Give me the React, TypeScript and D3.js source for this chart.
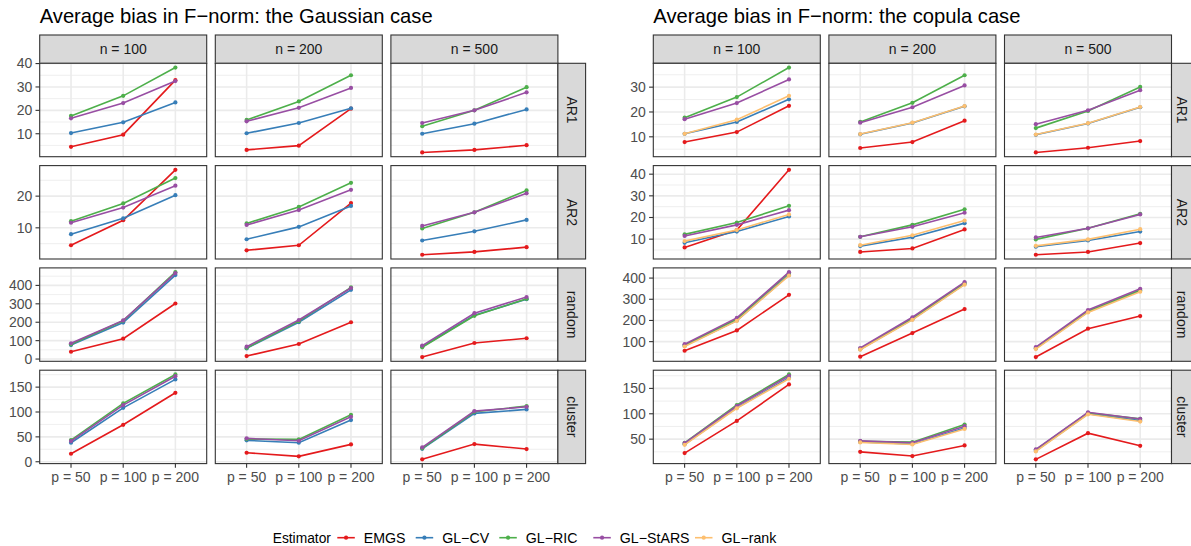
import React from 'react'
import * as d3 from 'd3'

// factor levels
const estimators = ['EMGS', 'GL\u2212CV', 'GL\u2212RIC', 'GL\u2212StARS', 'GL\u2212rank']
const estColors = ['#E41A1C', '#377EB8', '#4DAF4A', '#984EA3', '#FDBF6F']
const nLevels = ['n = 100', 'n = 200', 'n = 500']
const pLevels = ['p = 50', 'p = 100', 'p = 200']
const structures = ['AR1', 'AR2', 'random', 'cluster']

// each row: one estimator, values n=100 (p50,p100,p200), n=200 (...), n=500 (...)
const gaussAR1 = [
  [4.4, 9.6, 32.9, 3.1, 4.9, 20.7, 2.0, 3.1, 5.1],
  [10.3, 14.9, 23.4, 10.2, 14.6, 20.9, 10.0, 14.3, 20.4],
  [17.6, 26.2, 38.3, 15.9, 23.8, 35.0, 13.2, 20.0, 29.9],
  [16.6, 23.1, 32.5, 15.3, 21.1, 29.6, 14.6, 20.0, 27.7],
]
const gaussAR2 = [
  [4.5, 12.4, 28.3, 2.9, 4.5, 17.8, 1.5, 2.4, 3.9],
  [8.0, 13.0, 20.3, 6.4, 10.3, 16.9, 6.0, 8.9, 12.5],
  [12.1, 17.7, 25.7, 11.4, 16.6, 24.2, 9.8, 14.9, 21.8],
  [11.6, 16.4, 23.3, 10.9, 15.6, 22.0, 10.6, 14.9, 20.9],
]
const gaussRandom = [
  [39.8, 110.8, 301.7, 16.4, 81.8, 200, 10.9, 87.3, 112.9],
  [76, 198, 456, 58, 200, 376, 67, 238, 325],
  [80, 208, 472, 60, 206, 389, 64, 235, 327],
  [86, 210, 467, 67, 212, 386, 73, 249, 337],
]
const gaussCluster = [
  [16.1, 74.3, 138.6, 18.1, 10.8, 34.9, 4.8, 35.5, 25.5],
  [38.2, 108.4, 165.5, 43, 38.2, 83.7, 26, 97.2, 105.2],
  [43.6, 117.3, 175.5, 45.5, 45, 94.4, 27, 100.4, 111.8],
  [41.6, 113.9, 172, 47, 42.2, 90.4, 29, 101.8, 110.4],
]

const copAR1 = [
  [7.9, 11.9, 22.5, 5.5, 7.9, 16.5, 3.7, 5.6, 8.3],
  [11.2, 16.0, 25.1, 11.0, 15.6, 22.3, 10.8, 15.4, 21.9],
  [17.7, 26.0, 37.9, 16.0, 23.7, 34.8, 13.5, 20.4, 30.1],
  [17.1, 23.6, 33.1, 15.7, 21.9, 30.7, 15.1, 20.7, 28.8],
  [11.2, 16.9, 26.5, 11.1, 15.7, 22.4, 10.9, 15.5, 22.0],
]
const copAR2 = [
  [6.2, 14.2, 42.0, 4.1, 5.7, 14.5, 2.8, 4.1, 8.2],
  [8.3, 13.5, 20.5, 6.8, 10.9, 17.4, 6.5, 9.4, 13.5],
  [12.2, 17.7, 25.4, 11.1, 16.6, 23.8, 9.9, 15.0, 21.7],
  [11.5, 16.6, 23.4, 11.1, 15.7, 22.2, 10.8, 15.0, 21.4],
  [9.1, 14.2, 21.4, 7.2, 11.8, 18.6, 6.9, 9.9, 14.6],
]
const copRandom = [
  [57, 153, 321, 28.9, 140.6, 253.8, 27.3, 161, 220.8],
  [80, 200, 415, 64, 205, 372, 68, 241, 340],
  [84, 207, 425, 66, 210, 377, 70, 244, 344],
  [88, 212, 428, 70, 215, 381, 74.5, 249, 349.5],
  [77, 198, 412, 62, 203, 369, 65, 238, 335.5],
]
const copCluster = [
  [22.5, 85.9, 157.8, 25, 16.7, 37.6, 10.2, 61.8, 36.9],
  [40, 112, 171, 44.5, 40.5, 72, 27, 100, 86.5],
  [42.5, 117.3, 177.5, 46, 44.1, 78.8, 29, 102, 90],
  [42.2, 115.3, 174.9, 46.7, 42.8, 75.5, 29.8, 102.9, 89.8],
  [38.9, 110.8, 169, 43.5, 39.6, 70.2, 25.9, 99, 84.7],
]

// y tick labels per row
const gaussTicks = [[10, 20, 30, 40], [10, 20], [0, 100, 200, 300, 400], [0, 50, 100, 150]]
const copTicks = [[10, 20, 30], [10, 20, 30, 40], [100, 200, 300, 400], [50, 100, 150]]

const FONT = '"Liberation Sans", Arial, Helvetica, sans-serif'
const AXIS_FS = 14
const panelW = 167
const stepX = 175.6
const panelH = 93.4
const stepY = 102.3
const top0 = 63.3
const stripH = 28.3

function Facets({x0, title, rows, ticks, stripW}) {
  const x = d3.scalePoint().domain(pLevels).range([0, panelW]).padding(0.6)
  const line = d3.line()
  const out = []

  out.push(<text key="title" x={x0} y={22.5} fontSize={20.2} fill="#000">{title}</text>)

  nLevels.forEach((n, j) => {
    const px = x0 + j * stepX
    out.push(<rect key={'st' + j} x={px} y={top0 - stripH} width={panelW} height={stripH}
      fill="#D9D9D9" stroke="#333333" strokeWidth={1.1}/>)
    out.push(<text key={'stt' + j} x={px + panelW / 2} y={top0 - stripH / 2} dy="0.35em"
      textAnchor="middle" fontSize={AXIS_FS} fill="#1A1A1A">{n}</text>)
  })

  rows.forEach((rowData, r) => {
    const py = top0 + r * stepY
    const all = rowData.flat()
    const [lo, hi] = d3.extent(all)
    const pad = (hi - lo) * 0.05
    const y = d3.scaleLinear().domain([lo - pad, hi + pad]).range([py + panelH, py])
    const major = ticks[r]
    const half = (major[1] - major[0]) / 2
    const minor = [major[0] - half, ...major.map(t => t + half)]
      .filter(t => t > y.domain()[0] && t < y.domain()[1])

    nLevels.forEach((n, j) => {
      const px = x0 + j * stepX
      const g = []
      g.push(<rect key="bg" x={0} y={0} width={panelW} height={panelH} fill="#fff"/>)
      minor.forEach((t, k) => g.push(<line key={'mi' + k} x1={0} x2={panelW} y1={y(t) - py} y2={y(t) - py}
        stroke="#EBEBEB" strokeWidth={0.8}/>))
      major.forEach((t, k) => g.push(<line key={'ma' + k} x1={0} x2={panelW} y1={y(t) - py} y2={y(t) - py}
        stroke="#EBEBEB" strokeWidth={1.6}/>))
      pLevels.forEach((p, k) => g.push(<line key={'mx' + k} x1={x(p)} x2={x(p)} y1={0} y2={panelH}
        stroke="#EBEBEB" strokeWidth={1.6}/>))
      rowData.forEach((vals, e) => {
        const pts = pLevels.map((p, k) => [x(p), y(vals[j * 3 + k]) - py])
        g.push(<path key={'l' + e} d={line(pts)} fill="none" stroke={estColors[e]} strokeWidth={1.6}/>)
        pts.forEach((pt, k) => g.push(<circle key={'c' + e + k} cx={pt[0]} cy={pt[1]} r={2.1} fill={estColors[e]}/>))
      })
      g.push(<rect key="border" x={0} y={0} width={panelW} height={panelH} fill="none" stroke="#333333" strokeWidth={1.1}/>)
      out.push(<g key={'p' + r + j} transform={`translate(${px},${py})`}>{g}</g>)
    })

    // y axis
    major.forEach((t, k) => {
      out.push(<line key={'yt' + r + k} x1={x0 - 4.2} x2={x0} y1={y(t)} y2={y(t)} stroke="#333333" strokeWidth={1.1}/>)
      out.push(<text key={'yl' + r + k} x={x0 - 7.4} y={y(t)} dy="0.35em" textAnchor="end"
        fontSize={AXIS_FS} fill="#4D4D4D">{t}</text>)
    })

    // right strip
    const sx = x0 + 2 * stepX + panelW
    out.push(<rect key={'rs' + r} x={sx} y={py} width={stripW} height={panelH}
      fill="#D9D9D9" stroke="#333333" strokeWidth={1.1}/>)
    out.push(<text key={'rst' + r} transform={`translate(${sx + stripW / 2},${py + panelH / 2}) rotate(90)`}
      dy="0.35em" textAnchor="middle" fontSize={AXIS_FS} fill="#1A1A1A">{structures[r]}</text>)
  })

  // x axis
  const bottom = top0 + 3 * stepY + panelH
  nLevels.forEach((n, j) => {
    const px = x0 + j * stepX
    pLevels.forEach((p, k) => {
      out.push(<line key={'xt' + j + k} x1={px + x(p)} x2={px + x(p)} y1={bottom} y2={bottom + 4.2}
        stroke="#333333" strokeWidth={1.1}/>)
      out.push(<text key={'xl' + j + k} x={px + x(p)} y={bottom + 18.4} textAnchor="middle"
        fontSize={AXIS_FS} fill="#4D4D4D">{p}</text>)
    })
  })
  return <g>{out}</g>
}

function Legend() {
  const keyX = [337.3, 415.7, 499.3, 593.3, 695]
  const cy = 537.7
  return (
    <g>
      <text x={272.7} y={cy} dy="0.35em" fontSize={13.8} fill="#000">Estimator</text>
      {estimators.map((e, i) => (
        <g key={e}>
          <line x1={keyX[i]} x2={keyX[i] + 17.5} y1={cy} y2={cy} stroke={estColors[i]} strokeWidth={1.6}/>
          <circle cx={keyX[i] + 8.75} cy={cy} r={2.1} fill={estColors[i]}/>
          <text x={keyX[i] + 26.5} y={cy} dy="0.35em" fontSize={14.2} fill="#000">{e}</text>
        </g>
      ))}
    </g>
  )
}

export default function App() {
  return (
    <svg width={1191} height={546} style={{position: 'absolute', left: 0, top: 0, fontFamily: FONT}}>
      <rect width={1191} height={546} fill="#fff"/>
      <Facets x0={39.7} title={'Average bias in F\u2212norm: the Gaussian case'} stripW={27.7}
        rows={[gaussAR1, gaussAR2, gaussRandom, gaussCluster]} ticks={gaussTicks}/>
      <Facets x0={653.3} title={'Average bias in F\u2212norm: the copula case'} stripW={20.5}
        rows={[copAR1, copAR2, copRandom, copCluster]} ticks={copTicks}/>
      <Legend/>
    </svg>
  )
}
